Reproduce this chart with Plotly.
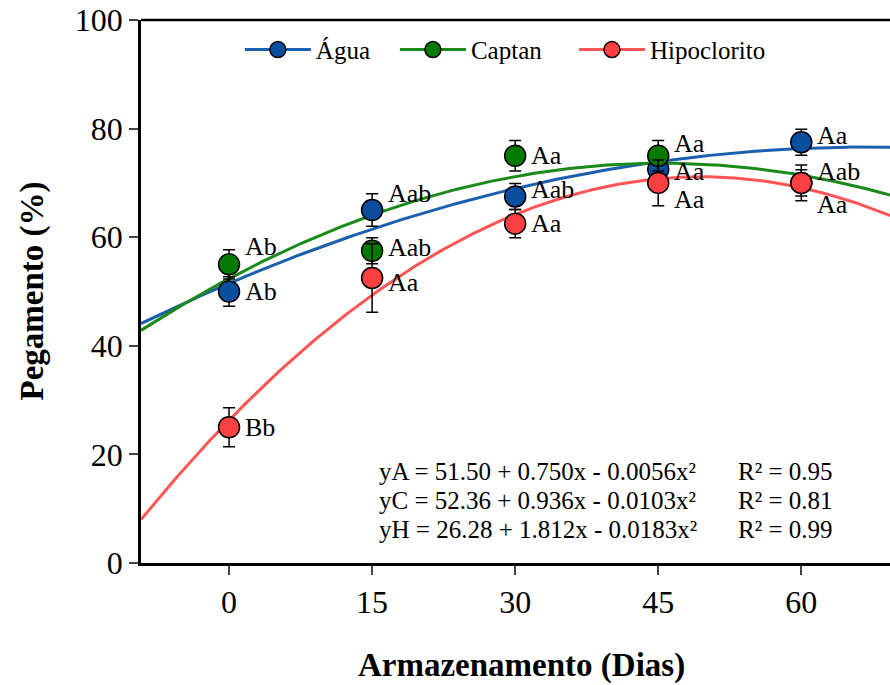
import numpy as np
import plotly.graph_objects as go

# ---- data ----
days = [0, 15, 30, 45, 60]
agua = [50, 65, 67.5, 72.5, 77.5]
agua_err = [2.7, 3.0, 2.4, 2.5, 2.4]
captan = [55, 57.5, 75, 75, 70]
captan_err = [2.7, 2.4, 2.8, 2.8, 3.3]
hipo = [25, 52.5, 62.5, 70, 70]
hipo_err = [3.6, 6.3, 2.6, 4.2, 2.4]

agua_lab = ["Ab", "Aab", "Aab", "Aa", "Aa"]
captan_lab = ["Ab", "Aab", "Aa", "Aa", "Aab"]
hipo_lab = ["Bb", "Aa", "Aa", "Aa", "Aa"]

# regression coefficients shown on the chart (b0, b1, b2)
coef_agua = [51.50, 0.750, -0.0056]
coef_captan = [52.36, 0.936, -0.0103]
coef_hipo = [26.28, 1.812, -0.0183]

eq_text = ["yA = 51.50 + 0.750x - 0.0056x²",
           "yC = 52.36 + 0.936x - 0.0103x²",
           "yH = 26.28 + 1.812x - 0.0183x²"]
r2_text = ["R² = 0.95", "R² = 0.81", "R² = 0.99"]

x_ticks = [0, 15, 30, 45, 60]
y_ticks = [0, 20, 40, 60, 80, 100]

# ---- styles ----
FONT = "Liberation Serif"
XR = [-9.23, 69.3]
series = [
    ("Água", agua, agua_err, agua_lab, coef_agua, "#0A4E9E", "#1B5FB0", "legend"),
    ("Captan", captan, captan_err, captan_lab, coef_captan, "#007A00", "#1A8A1A", "legend2"),
    ("Hipoclorito", hipo, hipo_err, hipo_lab, coef_hipo, "#FF4040", "#FF5555", "legend3"),
]
label_yshift = {
    "Água": [0, 17, 7, -2, 7],
    "Captan": [18, 3, 0, 12, 11],
    "Hipoclorito": [0, -5, 0, -17, -22],
}
eq_rows_y = [0.1694, 0.116, 0.0608]

fig = go.Figure()

xs = np.linspace(XR[0], XR[1], 300)
for name, vals, err, lab, coef, mcol, lcol, lg in series:
    ys = coef[0] + coef[1] * xs + coef[2] * xs ** 2
    fig.add_trace(go.Scatter(x=xs, y=ys, mode="lines", line=dict(color=lcol, width=3),
                             showlegend=False, hoverinfo="skip"))

for name, vals, err, lab, coef, mcol, lcol, lg in series:
    fig.add_trace(go.Scatter(
        x=days, y=vals, mode="markers",
        marker=dict(size=21, color=mcol, line=dict(color="black", width=1.5)),
        error_y=dict(type="data", array=err, visible=True, color="black", thickness=1.5, width=6),
        showlegend=False))

# legend-only entries
for name, vals, err, lab, coef, mcol, lcol, lg in series:
    fig.add_trace(go.Scatter(
        x=[None], y=[None], mode="lines+markers", name=name, legend=lg,
        line=dict(color=lcol, width=3),
        marker=dict(size=21, color=mcol, line=dict(color="black", width=1.5))))

annotations = []
for name, vals, err, lab, coef, mcol, lcol, lg in series:
    for xv, yv, t, ys_ in zip(days, vals, lab, label_yshift[name]):
        annotations.append(dict(x=xv, y=yv, xref="x", yref="y", text=t, showarrow=False,
                                xanchor="left", yanchor="middle", xshift=14, yshift=ys_,
                                font=dict(family=FONT, size=26, color="black")))

for eq, r2, yy in zip(eq_text, r2_text, eq_rows_y):
    annotations.append(dict(x=0.315, y=yy, xref="paper", yref="paper", text=eq,
                            showarrow=False, xanchor="left", yanchor="middle",
                            font=dict(family=FONT, size=25, color="black")))
    annotations.append(dict(x=0.7944, y=yy, xref="paper", yref="paper", text=r2,
                            showarrow=False, xanchor="left", yanchor="middle",
                            font=dict(family=FONT, size=25, color="black")))
# axis titles
annotations.append(dict(x=0.508, y=-0.188, xref="paper", yref="paper",
                        text="<b>Armazenamento (Dias)</b>", showarrow=False,
                        xanchor="center", yanchor="middle",
                        font=dict(family=FONT, size=33, color="black")))
annotations.append(dict(x=-0.1455, y=0.5, xref="paper", yref="paper",
                        text="<b>Pegamento (%)</b>", showarrow=False, textangle=-90,
                        xanchor="center", yanchor="middle",
                        font=dict(family=FONT, size=33, color="black")))

legend_common = dict(orientation="h", yanchor="middle", xanchor="left", y=0.945,
                     bgcolor="rgba(0,0,0,0)", itemwidth=66,
                     font=dict(family=FONT, size=25, color="black"))

fig.update_layout(
    width=890, height=685,
    margin=dict(l=141, r=0, t=20, b=122, autoexpand=False),
    plot_bgcolor="white", paper_bgcolor="white",
    font=dict(family=FONT, color="black"),
    annotations=annotations,
    legend=dict(x=0.132, **legend_common),
    legend2=dict(x=0.339, **legend_common),
    legend3=dict(x=0.578, **legend_common),
    shapes=[dict(type="line", xref="paper", yref="paper", x0=0, x1=1, y0=1, y1=1,
                 line=dict(color="black", width=2.5))],
    xaxis=dict(range=XR, tickvals=x_ticks, ticks="outside", ticklen=9, tickwidth=2,
               showline=True, linecolor="black", linewidth=2.5, showgrid=False, zeroline=False,
               ticklabeloverflow="allow", automargin=False,
               tickfont=dict(family=FONT, size=32, color="black")),
    yaxis=dict(range=[0, 100], tickvals=y_ticks, ticks="outside", ticklen=9, tickwidth=2,
               showline=True, linecolor="black", linewidth=2.5, showgrid=False, zeroline=False,
               ticklabeloverflow="allow", automargin=False,
               tickfont=dict(family=FONT, size=32, color="black")),
)

# remove the page's default body margin so the 890x685 figure fills the window
fig.write_html("out.html", config={"displayModeBar": False},
               post_script="document.body.style.margin='0px';document.body.style.overflow='hidden';")
